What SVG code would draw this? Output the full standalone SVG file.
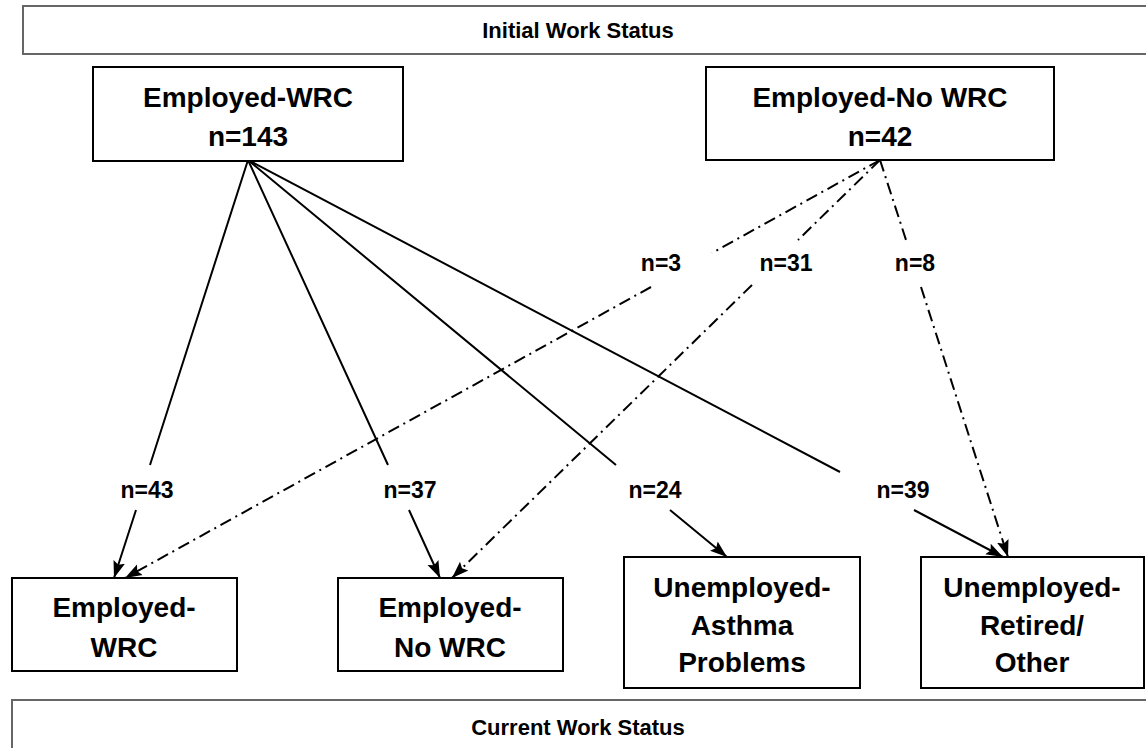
<svg xmlns="http://www.w3.org/2000/svg" width="1146" height="748" viewBox="0 0 1146 748">
<style>
  .banner{fill:#fff;stroke:#666;stroke-width:2}
  .box{fill:#fff;stroke:#000;stroke-width:2}
  .t{font-family:"Liberation Sans",Arial,sans-serif;font-weight:bold;fill:#000;text-anchor:middle}
  .big{font-size:28px}
  .ban{font-size:22px}
  .lab{font-size:23px}
  .solid{fill:none;stroke:#000;stroke-width:2;marker-end:url(#ah)}
  .dd{fill:none;stroke:#000;stroke-width:2;stroke-dasharray:12 5 2 5;marker-end:url(#ah)}
</style>
<defs>
  <marker id="ah" markerUnits="userSpaceOnUse" markerWidth="18" markerHeight="14" viewBox="0 0 18 14" refX="17" refY="7" orient="auto">
    <path d="M0,1 L17,7 L0,13 L3,7 z" fill="#000"/>
  </marker>
</defs>
<rect width="1146" height="748" fill="#fff"/>

<g id="banner-initial">
  <rect class="banner" x="23" y="6" width="1140" height="48"/>
  <text class="t ban" x="578" y="38">Initial Work Status</text>
</g>
<g id="banner-current">
  <rect class="banner" x="12" y="700" width="1150" height="60"/>
  <text class="t ban" x="578" y="735">Current Work Status</text>
</g>

<g id="connectors">
  <path class="solid" d="M248,160 L150,465 M136,510 L114,578"/>
  <path class="solid" d="M248,160 L388,465 M409,510 L440,578"/>
  <path class="solid" d="M248,160 L616,465 M670,510 L727,557"/>
  <path class="solid" d="M248,160 L840,472 M914,510 L1003,557"/>
  <path class="dd" d="M880,160 L712,253 M651,287 L125,578"/>
  <path class="dd" d="M880,160 L798,240 M752,285 L452,578"/>
  <path class="dd" d="M880,160 L907,243 M921,287 L1008,557"/>
  <text class="t lab" x="147" y="498">n=43</text>
  <text class="t lab" x="410" y="498">n=37</text>
  <text class="t lab" x="655" y="498">n=24</text>
  <text class="t lab" x="903" y="498">n=39</text>
  <text class="t lab" x="661" y="271">n=3</text>
  <text class="t lab" x="786" y="271">n=31</text>
  <text class="t lab" x="915" y="271">n=8</text>
</g>

<g id="init-employed-wrc">
  <rect class="box" x="93" y="67" width="310" height="94"/>
  <text class="t big" x="248" y="107">Employed-WRC</text>
  <text class="t big" x="248" y="146">n=143</text>
</g>
<g id="init-employed-nowrc">
  <rect class="box" x="706" y="67" width="348" height="93"/>
  <text class="t big" x="880" y="107">Employed-No WRC</text>
  <text class="t big" x="880" y="146">n=42</text>
</g>

<g id="cur-employed-wrc">
  <rect class="box" x="12" y="578" width="225" height="93"/>
  <text class="t big" x="124" y="617">Employed-</text>
  <text class="t big" x="124" y="657">WRC</text>
</g>
<g id="cur-employed-nowrc">
  <rect class="box" x="338" y="578" width="225" height="93"/>
  <text class="t big" x="450" y="617">Employed-</text>
  <text class="t big" x="450" y="657">No WRC</text>
</g>
<g id="cur-unemployed-asthma">
  <rect class="box" x="624" y="557" width="236" height="131"/>
  <text class="t big" x="742" y="597">Unemployed-</text>
  <text class="t big" x="742" y="635">Asthma</text>
  <text class="t big" x="742" y="672">Problems</text>
</g>
<g id="cur-unemployed-retired">
  <rect class="box" x="921" y="557" width="223" height="131"/>
  <text class="t big" x="1032" y="597">Unemployed-</text>
  <text class="t big" x="1032" y="635">Retired/</text>
  <text class="t big" x="1032" y="672">Other</text>
</g>
</svg>
